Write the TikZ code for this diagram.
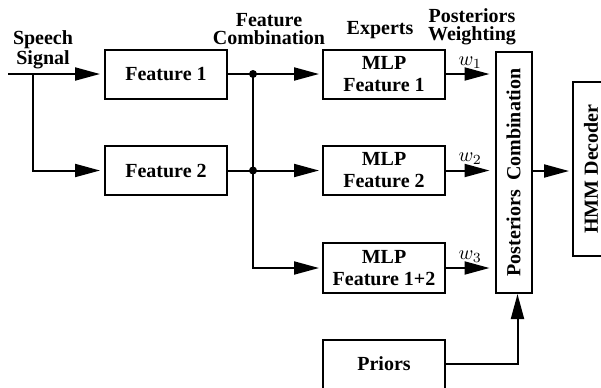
\documentclass[tikz,border=0pt]{standalone}
\usepackage{fontspec}
\setmainfont{Liberation Serif}
\usepackage{tikz}
\usetikzlibrary{arrows.meta,positioning}

\begin{document}
\begin{tikzpicture}[x=0.5pt, y=-0.5pt, line width=1pt,
  blk/.style={draw, minimum width=61pt, minimum height=24.5pt, inner sep=0pt,
              font=\fontsize{10}{11}\selectfont\bfseries, align=center},
  tall/.style={draw, rotate=90, minimum height=18pt, inner sep=0pt,
               font=\fontsize{10}{11}\selectfont\bfseries},
  hdr/.style={font=\fontsize{10}{9}\selectfont\bfseries, align=center, inner sep=0pt},
  wlab/.style={above, inner sep=2.5pt, font=\fontsize{10}{11}\selectfont},
  arr/.style={-{Triangle[length=12.5pt,width=6.5pt]}},
  dot/.style={circle, fill, inner sep=0pt, minimum size=4pt}
]
  \useasboundingbox (0,0) rectangle (601,387);
  \clip (0,0) rectangle (601,387);

  % headings
  \node[hdr] (hspeech) at (43,50)  {Speech\\Signal};
  \node[hdr] (hcomb)   at (269,29) {Feature\\Combination};
  \node[hdr] (hexp)    at (380,30) {Experts};
  \node[hdr] (hweight) at (472,27) {Posteriors\\Weighting};

  % blocks
  \node[blk] (feat1) at (166,74)    {Feature 1};
  \node[blk] (feat2) at (166,170.5) {Feature 2};
  \node[blk] (mlp1)  at (384,74)    {MLP\\Feature 1};
  \node[blk] (mlp2)  at (384,170.5) {MLP\\Feature 2};
  \node[blk, minimum height=25pt] (mlp3) at (384,268) {MLP\\Feature 1+2};
  \node[blk] (priors) at (384,364)  {Priors};
  \node[tall, minimum width=120.5pt] (post) at (513.5,172.5) {Posteriors\hspace{0.45em}Combination};
  \node[tall, minimum width=87pt]    (hmm)  at (591,169)     {HMM Decoder};

  % input
  \coordinate (in) at (8,74);
  \coordinate (split) at (33,74);
  \draw[arr, shorten >=2pt] (in) -- (feat1.west);
  \draw[arr, shorten >=2pt] (split) |- (feat2.west);

  % feature combination
  \coordinate (bus) at (253,74);
  \draw[arr, shorten >=1.5pt] (feat1.east) -- (mlp1.west);
  \draw[arr, shorten >=1.5pt] (feat2.east) -- (mlp2.west);
  \draw[arr, shorten >=1.5pt] (bus) |- (mlp3.west);
  \node[dot] (d1) at (bus) {};
  \node[dot] (d2) at (bus |- feat2.east) {};

  % weighting
  \draw[arr, shorten >=2.5pt] (mlp1.east) -- node[wlab] {$w_1$} (mlp1.east -| post.north);
  \draw[arr, shorten >=2.5pt] (mlp2.east) -- node[wlab] {$w_2$} (mlp2.east -| post.north);
  \draw[arr, shorten >=2.5pt] (mlp3.east) -- node[wlab] {$w_3$} (mlp3.east -| post.north);
  \draw[arr] (priors.east) -| ([xshift=2pt]post.west);
  \draw[arr, shorten >=1.5pt] (post.south |- 0,171) -- (hmm.north |- 0,171);
\end{tikzpicture}
\end{document}
